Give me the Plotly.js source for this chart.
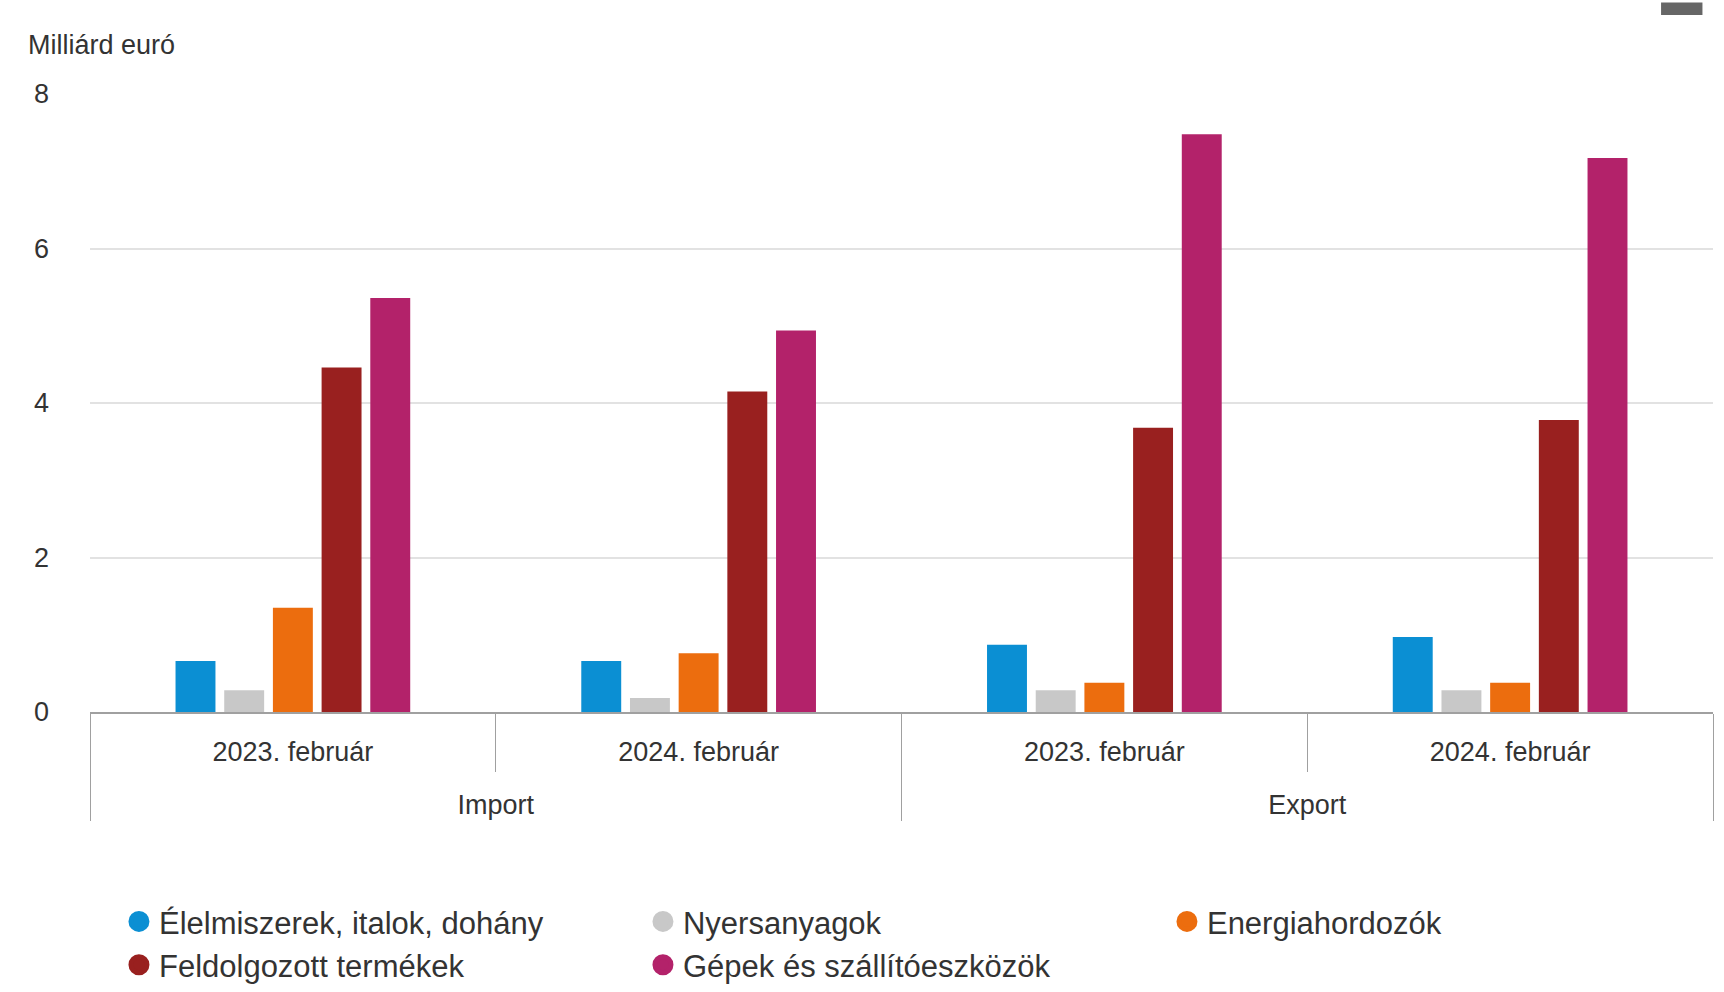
<!DOCTYPE html>
<html>
<head>
<meta charset="utf-8">
<script src="https://cdn.plot.ly/plotly-3.0.1.min.js"></script>
<style>
  html, body { margin: 0; padding: 0; background: #ffffff; }
  #chart { width: 1724px; height: 992px; }
</style>
</head>
<body>
<div id="chart"></div>
<script>
// ---- data ----
const flowLabels = ["Import", "Import", "Export", "Export"];
const periodLabels = ["2023. február", "2024. február", "2023. február", "2024. február"];

const seriesNames = [
  "Élelmiszerek, italok, dohány",
  "Nyersanyagok",
  "Energiahordozók",
  "Feldolgozott termékek",
  "Gépek és szállítóeszközök"
];
const elelmiszerek = [0.66, 0.66, 0.87, 0.97];
const nyersanyagok = [0.28, 0.18, 0.28, 0.28];
const energiahordozok = [1.35, 0.76, 0.38, 0.38];
const feldolgozott = [4.46, 4.15, 3.68, 3.78];
const gepek = [5.36, 4.94, 7.48, 7.17];

const yTickVals = [0, 2, 4, 6, 8];
const yUnitLabel = "Milliárd euró";

// ---- styles ----
const colors = ["#0b8fd3", "#c8c8c8", "#ec6d0e", "#99201f", "#b3226a"];
const seriesValues = [elelmiszerek, nyersanyagok, energiahordozok, feldolgozott, gepek];
const FONT = "Liberation Sans, Arial, sans-serif";
const TXT = "#333333";

// outer labels pushed one line lower, as in the reference
const outerLabels = flowLabels.map(s => "<br>" + s);

const traces = [];
seriesValues.forEach((vals, i) => {
  traces.push({
    type: "bar",
    name: seriesNames[i],
    x: [outerLabels, periodLabels],
    y: vals,
    marker: { color: colors[i], line: { width: 0 } },
    legendgroup: "g" + i,
    showlegend: false,
    hoverinfo: "skip"
  });
});
// legend entries with circular markers
seriesValues.forEach((vals, i) => {
  traces.push({
    type: "scatter",
    mode: "markers",
    name: seriesNames[i],
    x: [[outerLabels[0]], [periodLabels[0]]],
    y: [null],
    marker: { color: colors[i], size: 16, symbol: "circle", line: { color: colors[i], width: 5 } },
    legendgroup: "g" + i,
    showlegend: true,
    hoverinfo: "skip"
  });
});

const layout = {
  width: 1724,
  height: 992,
  paper_bgcolor: "#ffffff",
  plot_bgcolor: "#ffffff",
  font: { family: FONT, size: 27, color: TXT },
  margin: { l: 90, r: 11, t: 94, b: 280, pad: 0 },
  barmode: "group",
  bargap: 0.4,
  bargroupgap: 0.18,
  showlegend: true,
  legend: {
    orientation: "h",
    xref: "container",
    yref: "container",
    x: 0.069,
    xanchor: "left",
    y: 0.098,
    yanchor: "top",
    entrywidth: 479,
    entrywidthmode: "pixels",
    font: { family: FONT, size: 31, color: TXT },
    traceorder: "normal",
    itemclick: false,
    itemdoubleclick: false
  },
  xaxis: {
    type: "multicategory",
    showdividers: true,
    dividercolor: "#a0a0a0",
    dividerwidth: 1,
    ticks: "outside",
    tickson: "boundaries",
    ticklen: 58,
    tickcolor: "#a0a0a0",
    tickwidth: 1,
    ticklabelstandoff: 15,
    showline: true,
    linecolor: "#a0a0a0",
    linewidth: 2,
    showgrid: false,
    tickfont: { family: FONT, size: 27, color: TXT },
    fixedrange: true
  },
  yaxis: {
    range: [0, 8],
    tickvals: yTickVals,
    ticktext: yTickVals.map(String),
    showgrid: true,
    gridcolor: "#e2e2e2",
    gridwidth: 2,
    zeroline: false,
    showline: false,
    ticks: "",
    ticklabelstandoff: 40,
    tickfont: { family: FONT, size: 27, color: TXT },
    fixedrange: true
  },
  annotations: [
    {
      text: yUnitLabel,
      xref: "paper", yref: "paper",
      x: -0.0395, y: 1.08,
      xanchor: "left", yanchor: "middle",
      showarrow: false,
      font: { family: FONT, size: 27, color: TXT }
    }
  ],
  shapes: [
    {
      type: "rect", xref: "paper", yref: "paper",
      x0: 0.968, x1: 0.9935, y0: 1.128, y1: 1.148,
      fillcolor: "#666666", line: { width: 0 }
    }
  ]
};

Plotly.newPlot("chart", traces, layout, { displayModeBar: false, staticPlot: false, responsive: false });
</script>
</body>
</html>
